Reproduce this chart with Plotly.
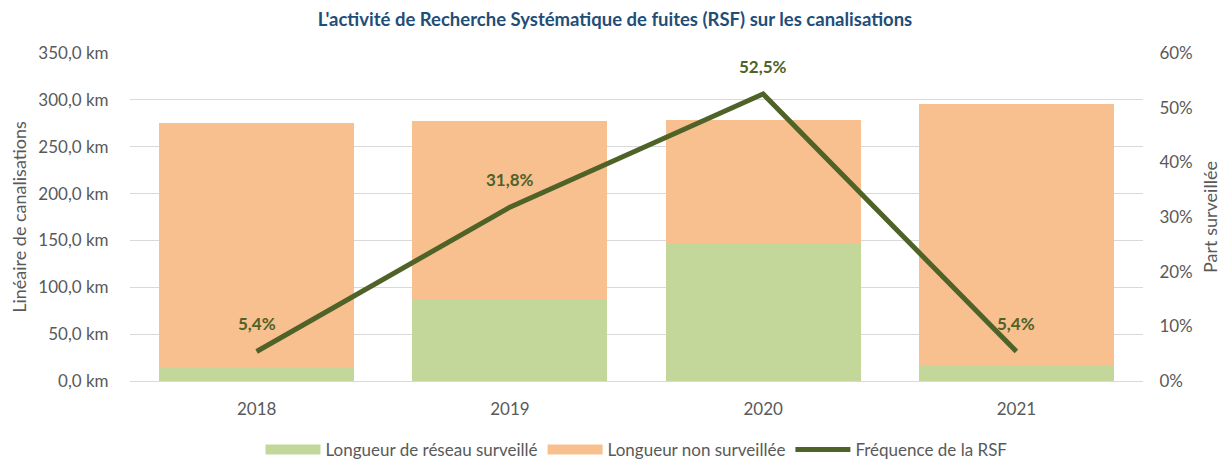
import plotly.graph_objects as go

years = [2018, 2019, 2020, 2021]
year_labels = ["2018", "2019", "2020", "2021"]
surveille = [14.9, 88.0, 146.0, 16.0]
non_surveille = [260.1, 189.0, 132.0, 280.0]
frequence = [5.4, 31.8, 52.5, 5.4]
freq_labels = ["5,4%", "31,8%", "52,5%", "5,4%"]
km_ticks = [0, 50, 100, 150, 200, 250, 300, 350]
km_labels = ["0,0 km", "50,0 km", "100,0 km", "150,0 km", "200,0 km", "250,0 km", "300,0 km", "350,0 km"]

FONT = "Lato"
GRAY = "#595959"
GREEN = "#C4D79B"
ORANGE = "#F8BF8F"
OLIVE = "#4F6228"

fig = go.Figure()
fig.add_trace(go.Bar(x=years, y=surveille, name="Longueur de réseau surveillé",
                     marker_color=GREEN, marker_line_width=0, showlegend=False, width=0.77))
fig.add_trace(go.Bar(x=years, y=non_surveille, name="Longueur non surveillée",
                     marker_color=ORANGE, marker_line_width=0, showlegend=False, width=0.77))
fig.add_trace(go.Scatter(x=years, y=frequence, name="Fréquence de la RSF", mode="lines",
                         line=dict(color=OLIVE, width=5), yaxis="y2", showlegend=False))
# legend entries (wide swatches like the reference)
fig.add_trace(go.Scatter(x=[None], y=[None], mode="lines", name="Longueur de réseau surveillé",
                         line=dict(color=GREEN, width=13)))
fig.add_trace(go.Scatter(x=[None], y=[None], mode="lines", name="Longueur non surveillée",
                         line=dict(color=ORANGE, width=13)))
fig.add_trace(go.Scatter(x=[None], y=[None], mode="lines", name="Fréquence de la RSF",
                         line=dict(color=OLIVE, width=5)))

for x, y, t in zip(years, frequence, freq_labels):
    fig.add_annotation(x=x, y=y, xref="x", yref="y2", text=t, showarrow=False,
                       yshift=28, font=dict(family=FONT, size=17, color=OLIVE, weight="bold"))

fig.update_layout(
    width=1222, height=455,
    margin=dict(l=122, r=87, t=45, b=82, autoexpand=False),
    barmode="stack",
    plot_bgcolor="white", paper_bgcolor="white",
    font=dict(family=FONT, size=17, color=GRAY),
    title=dict(text="L'activité de Recherche Systématique de fuites (RSF) sur les canalisations",
               x=0.4967, xanchor="center", y=0.974, yanchor="middle",
               font=dict(family=FONT, size=18.5, color="#1F4E79", weight="bold")),
    xaxis=dict(range=[2017.5, 2021.5], tickvals=years, ticktext=year_labels,
               showgrid=False, showline=True, linecolor="#D9D9D9", linewidth=1, zeroline=False,
               tickfont=dict(size=17, color=GRAY), ticks="outside", ticklen=13, tickcolor="white"),
    yaxis=dict(range=[0, 350], tickvals=km_ticks, ticktext=km_labels,
               showgrid=True, gridcolor="#D9D9D9", gridwidth=1, zeroline=False,
               ticks="outside", ticklen=17, tickcolor="white",
               title=dict(text="Linéaire de canalisations", font=dict(size=18, color=GRAY), standoff=8),
               tickfont=dict(size=17, color=GRAY)),
    yaxis2=dict(range=[0, 60], dtick=10, ticksuffix="%", overlaying="y", side="right",
                showgrid=False, zeroline=False,
                ticks="outside", ticklen=12, tickcolor="white",
                title=dict(text="Part surveillée", font=dict(size=18, color=GRAY), standoff=12),
                tickfont=dict(size=17, color=GRAY)),
    legend=dict(orientation="h", x=0.5, xanchor="center", y=-0.21, yanchor="middle",
                font=dict(size=17, color=GRAY), traceorder="normal", itemwidth=55),
)

fig.write_html("out.html")
